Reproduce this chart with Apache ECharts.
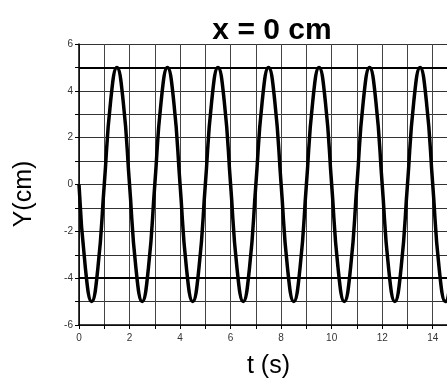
<!DOCTYPE html>
<html>
<head>
<meta charset="utf-8">
<script src="https://cdn.jsdelivr.net/npm/echarts@6/dist/echarts.min.js"></script>
<style>
html,body{margin:0;padding:0;background:#fff;}
#chart{width:447px;height:379px;}
</style>
</head>
<body>
<div id="chart"></div>
<script>
// Time samples (s)
var times = [
  0,0.25,0.5,0.75,1,1.25,1.5,1.75,2,2.25,2.5,2.75,3,3.25,3.5,3.75,
  4,4.25,4.5,4.75,5,5.25,5.5,5.75,6,6.25,6.5,6.75,7,7.25,7.5,7.75,
  8,8.25,8.5,8.75,9,9.25,9.5,9.75,10,10.25,10.5,10.75,11,11.25,11.5,11.75,
  12,12.25,12.5,12.75,13,13.25,13.5,13.75,14,14.25,14.5,14.75,15
];
// Displacement Y (cm)
var displacement = [
  0,-3.54,-5,-3.54,0,3.54,5,3.54,
  0,-3.54,-5,-3.54,0,3.54,5,3.54,
  0,-3.54,-5,-3.54,0,3.54,5,3.54,
  0,-3.54,-5,-3.54,0,3.54,5,3.54,
  0,-3.54,-5,-3.54,0,3.54,5,3.54,
  0,-3.54,-5,-3.54,0,3.54,5,3.54,
  0,-3.54,-5,-3.54,0,3.54,5,3.54,
  0,-3.54,-5,-3.54,0
];
var xTicks = [0,2,4,6,8,10,12,14];
var yTicks = [-6,-4,-2,0,2,4,6];
var heavyLines = [5,-4];
var titleText = 'x = 0 cm';
var xName = 't (s)';
var yName = 'Y(cm)';

var pts = times.map(function(t,i){return [t, displacement[i]];});

var chart = echarts.init(document.getElementById('chart'));
chart.setOption({
  animation:false,
  backgroundColor:'#fff',
  grid:{left:79, top:44, right:-11, bottom:54, containLabel:false, outerBoundsMode:'none'},
  graphic:[
    {type:'text', x:272, y:16, style:{text:titleText, fill:'#000', font:'bold 30px "Liberation Sans", Arial, sans-serif', textAlign:'center'}},
    {type:'text', x:24, y:194, rotation:Math.PI/2, style:{text:yName, fill:'#000', font:'25px "Liberation Sans", Arial, sans-serif', textAlign:'center', textVerticalAlign:'middle'}}
  ],
  xAxis:{
    type:'value', min:0, max:15, interval:1,
    name:xName, nameLocation:'middle', nameGap:29,
    nameTextStyle:{fontSize:25, color:'#000', fontFamily:'Liberation Sans'},
    axisLine:{show:true, onZero:false, lineStyle:{color:'#000', width:1.5}},
    axisTick:{show:true, length:4, lineStyle:{color:'#000'}},
    axisLabel:{fontSize:10, color:'#333', fontFamily:'Liberation Sans', margin:8,
      formatter:function(v){return xTicks.indexOf(v)>=0 ? String(v) : '';}},
    splitLine:{show:true, lineStyle:{color:'#444', width:1}}
  },
  yAxis:{
    type:'value', min:-6, max:6, interval:1,
    axisLine:{show:true, onZero:false, lineStyle:{color:'#000', width:1.5}},
    axisTick:{show:true, length:4, lineStyle:{color:'#000'}},
    axisLabel:{fontSize:10, color:'#333', fontFamily:'Liberation Sans', margin:6,
      formatter:function(v){return yTicks.indexOf(v)>=0 ? String(v) : '';}},
    splitLine:{show:true, lineStyle:{color:'#333', width:1}}
  },
  series:[{
    type:'line', data:pts, showSymbol:false, smooth:0.5,
    lineStyle:{color:'#000', width:3.5},
    markLine:{silent:true, symbol:'none', label:{show:false},
      lineStyle:{color:'#000', width:2, type:'solid'},
      data:heavyLines.map(function(v){return {yAxis:v};})}
  }]
});
</script>
</body>
</html>
